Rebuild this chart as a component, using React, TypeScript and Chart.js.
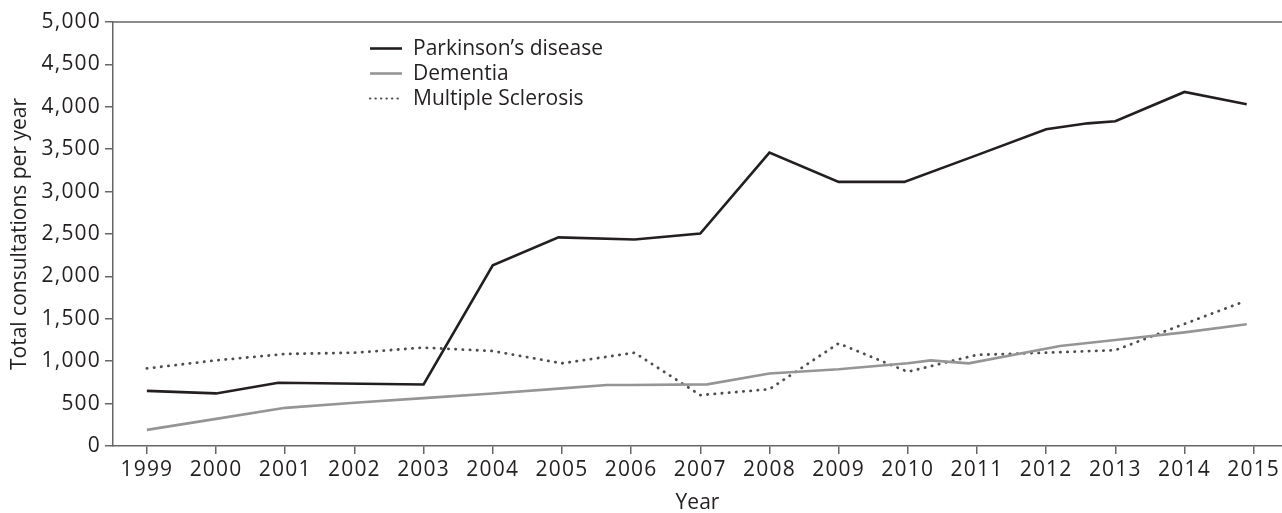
import React, { useEffect, useRef } from "react";
import { Chart, registerables } from "chart.js";

Chart.register(...registerables);

// ---- data ----
const yearTicks = [1999, 2000, 2001, 2002, 2003, 2004, 2005, 2006, 2007, 2008, 2009, 2010, 2011, 2012, 2013, 2014, 2015];
const yTicks = [0, 500, 1000, 1500, 2000, 2500, 3000, 3500, 4000, 4500, 5000];

const seriesNames = ["Parkinson\u2019s disease", "Dementia", "Multiple Sclerosis"];

const parkinsonsYears = [1999, 2000, 2000.9, 2003, 2004, 2004.95, 2006.05, 2007, 2008, 2009, 2009.95, 2011, 2012, 2012.6, 2013, 2014, 2014.9];
const parkinsonsValues = [650, 620, 745, 725, 2130, 2460, 2435, 2505, 3460, 3115, 3115, 3430, 3735, 3805, 3830, 4175, 4030];

const dementiaYears = [1999, 2000, 2001, 2002, 2003, 2004, 2005, 2005.65, 2006, 2007.1, 2008, 2009, 2010, 2010.33, 2010.88, 2012.2, 2013, 2014, 2014.9];
const dementiaValues = [190, 320, 450, 510, 565, 620, 680, 720, 720, 727, 855, 905, 975, 1010, 975, 1180, 1250, 1340, 1435];

const msYears = [1999, 2000, 2001, 2002, 2003, 2004, 2005, 2006.05, 2007, 2008, 2009, 2010, 2011, 2012, 2013, 2014, 2014.85];
const msValues = [915, 1010, 1085, 1100, 1160, 1120, 975, 1100, 600, 670, 1210, 875, 1075, 1100, 1130, 1440, 1700];

const FONT = "'Open Sans', 'Noto Sans', sans-serif";
const FS = 21;
const TEXT = "#231f20";
const AXIS = "#666666";

const toPoints = (xs: number[], ys: number[]) => xs.map((x, i) => ({ x, y: ys[i] }));

const framePlugin = {
  id: "frame",
  afterDatasetsDraw(chart: any) {
    // wider digits for tick labels
    (chart.ctx as any).letterSpacing = "1.2px";
  },
  afterDraw(chart: any) {
    const ctx = chart.ctx as CanvasRenderingContext2D;
    (ctx as any).letterSpacing = "0px";
    const { left, right, top } = chart.chartArea;
    ctx.save();
    ctx.strokeStyle = AXIS;
    ctx.lineWidth = 1.5;
    ctx.beginPath();
    ctx.moveTo(left, top);
    ctx.lineTo(right, top);
    ctx.stroke();
    ctx.restore();

    // legend
    const lx0 = 370;
    const lx1 = 402;
    const tx = 413;
    const rows = [48.5, 73.5, 98.5];
    chart.data.datasets.forEach((ds: any, i: number) => {
      const y = rows[i];
      ctx.save();
      ctx.strokeStyle = ds.borderColor;
      ctx.lineWidth = i === 2 ? 2.2 : ds.borderWidth;
      ctx.lineCap = i === 2 ? "round" : "butt";
      ctx.setLineDash(i === 2 ? [0.3, 5.2] : []);
      ctx.beginPath();
      ctx.moveTo(lx0, y);
      ctx.lineTo(lx1, y);
      ctx.stroke();
      ctx.setLineDash([]);
      ctx.fillStyle = TEXT;
      ctx.font = `${FS}px ${FONT}`;
      ctx.textBaseline = "middle";
      ctx.textAlign = "left";
      ctx.fillText(ds.label, tx, y + 1);
      ctx.restore();
    });
  },
};

export default function App() {
  const ref = useRef<HTMLCanvasElement | null>(null);

  useEffect(() => {
    document.body.style.margin = "0";
    if (!ref.current) return;
    const chart = new Chart(ref.current, {
      type: "line",
      data: {
        datasets: [
          {
            label: seriesNames[0],
            data: toPoints(parkinsonsYears, parkinsonsValues),
            borderColor: "#231f20",
            borderWidth: 2.6,
            pointRadius: 0,
            tension: 0,
          },
          {
            label: seriesNames[1],
            data: toPoints(dementiaYears, dementiaValues),
            borderColor: "#959595",
            borderWidth: 2.6,
            pointRadius: 0,
            tension: 0,
          },
          {
            label: seriesNames[2],
            data: toPoints(msYears, msValues),
            borderColor: "#4d4d4d",
            borderWidth: 2.8,
            borderDash: [0.3, 6.9],
            borderCapStyle: "round",
            pointRadius: 0,
            tension: 0,
          },
        ],
      },
      options: {
        animation: false,
        responsive: true,
        maintainAspectRatio: false,
        events: [],
        layout: { padding: { top: 22, left: 0, right: 0, bottom: 0 } },
        plugins: { legend: { display: false }, tooltip: { enabled: false } },
        scales: {
          x: {
            type: "linear",
            min: 1998.51,
            max: 2015.41,
            afterBuildTicks: (s: any) => {
              s.ticks = yearTicks.map((v) => ({ value: v }));
            },
            afterFit: (s: any) => {
              s.height = 67;
            },
            ticks: {
              z: 1,
              autoSkip: false,
              maxRotation: 0,
              padding: 3,
              color: TEXT,
              font: { family: FONT, size: FS },
              callback: (v: any) => String(v),
            },
            grid: { drawOnChartArea: false, drawTicks: true, tickLength: 8, color: AXIS, lineWidth: 1.5 },
            border: { display: true, color: AXIS, width: 1.5 },
            title: {
              display: true,
              text: "Year",
              color: TEXT,
              font: { family: FONT, size: FS },
              padding: { top: 0, bottom: -3 },
            },
          },
          y: {
            min: 0,
            max: 5000,
            afterBuildTicks: (s: any) => {
              s.ticks = yTicks.map((v) => ({ value: v }));
            },
            afterFit: (s: any) => {
              s.width = 113;
            },
            ticks: {
              z: 1,
              padding: 4,
              color: TEXT,
              font: { family: FONT, size: FS },
              callback: (v: any) => Number(v).toLocaleString("en-US"),
            },
            grid: { drawOnChartArea: false, drawTicks: true, tickLength: 8, color: AXIS, lineWidth: 1.5 },
            border: { display: true, color: AXIS, width: 1.5 },
            title: {
              display: true,
              text: "Total consultations per year",
              color: TEXT,
              font: { family: FONT, size: FS },
              padding: { top: 7, bottom: 0 },
            },
          },
        },
      },
      plugins: [framePlugin],
    });
    return () => chart.destroy();
  }, []);

  return (
    <div style={{ width: 1282, height: 513, position: "relative" }}>
      <canvas ref={ref} />
    </div>
  );
}
